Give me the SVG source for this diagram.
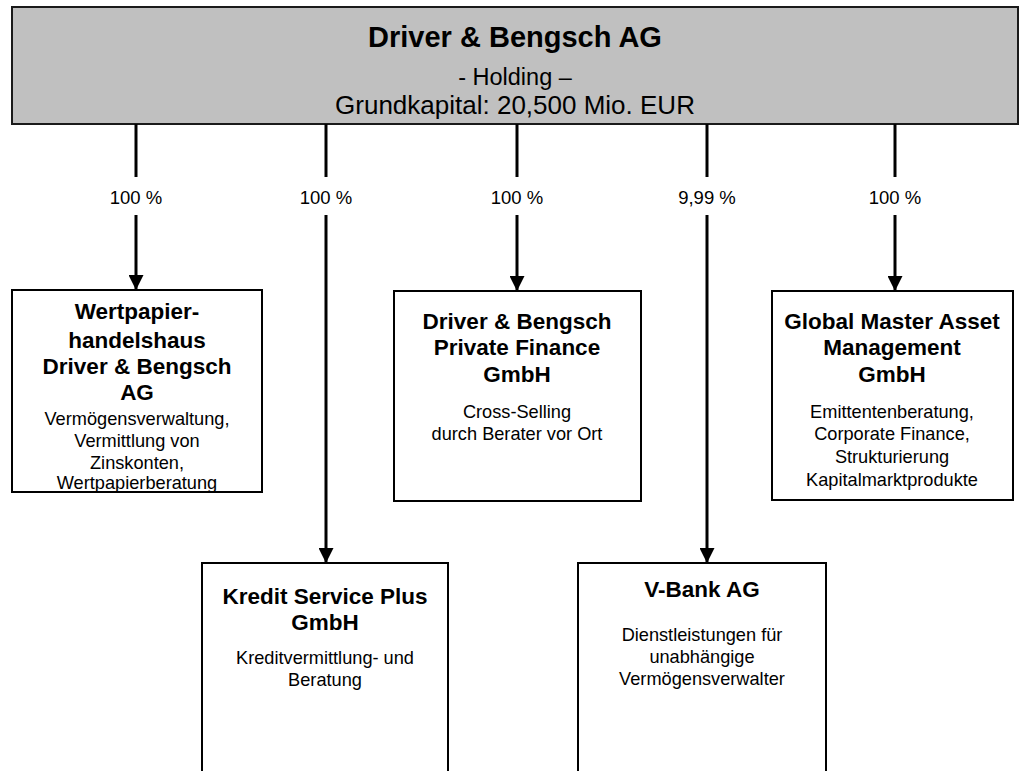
<svg xmlns="http://www.w3.org/2000/svg" width="1024" height="771" viewBox="0 0 1024 771">
<defs>
<style>
.box{fill:#fff;stroke:#000;stroke-width:2}
.top{fill:#c0c0c0;stroke:#1a1a1a;stroke-width:2}
text{font-family:"Liberation Sans",Arial,Helvetica,sans-serif;fill:#000;text-anchor:middle}
.b{font-weight:bold;font-size:22.5px}
.r{font-size:18.2px}
.pct{font-size:18.5px}
.ln{stroke:#000;stroke-width:3;fill:none}
</style>
<marker id="ah" markerWidth="5" markerHeight="5" refX="4.4" refY="2.2" orient="auto" markerUnits="strokeWidth" viewBox="0 0 4.4 4.4">
<path d="M0,0 L4.4,2.2 L0,4.4 Z" fill="#000"/>
</marker>
</defs>
<rect width="1024" height="771" fill="#fff"/>
<g id="holding">
<rect class="top" x="12" y="7" width="1006" height="117"/>
<text x="515" y="47" style="font-weight:bold;font-size:29px">Driver &amp; Bengsch AG</text>
<text x="515" y="85" style="font-size:23.5px">- Holding –</text>
<text x="515" y="114" style="font-size:26px">Grundkapital: 20,500 Mio. EUR</text>
</g>
<g id="connectors">
<line class="ln" x1="136" y1="124" x2="136" y2="177"/>
<line class="ln" x1="136" y1="215" x2="136" y2="290" marker-end="url(#ah)"/>
<line class="ln" x1="326" y1="124" x2="326" y2="177"/>
<line class="ln" x1="326" y1="215" x2="326" y2="563" marker-end="url(#ah)"/>
<line class="ln" x1="517" y1="124" x2="517" y2="177"/>
<line class="ln" x1="517" y1="215" x2="517" y2="291" marker-end="url(#ah)"/>
<line class="ln" x1="707" y1="124" x2="707" y2="177"/>
<line class="ln" x1="707" y1="215" x2="707" y2="563" marker-end="url(#ah)"/>
<line class="ln" x1="895" y1="124" x2="895" y2="177"/>
<line class="ln" x1="895" y1="215" x2="895" y2="291" marker-end="url(#ah)"/>
<text class="pct" x="136" y="204">100 %</text>
<text class="pct" x="326" y="204">100 %</text>
<text class="pct" x="517" y="204">100 %</text>
<text class="pct" x="707" y="204">9,99 %</text>
<text class="pct" x="895" y="204">100 %</text>
</g>
<g id="wertpapierhandelshaus">
<rect class="box" x="12" y="290" width="250" height="202"/>
<text class="b" x="137" y="319">Wertpapier-</text>
<text class="b" x="137" y="348">handelshaus</text>
<text class="b" x="137" y="374">Driver &amp; Bengsch</text>
<text class="b" x="137" y="400">AG</text>
<text class="r" x="137" y="425">Vermögensverwaltung,</text>
<text class="r" x="137" y="447">Vermittlung von</text>
<text class="r" x="137" y="469">Zinskonten,</text>
<text class="r" x="137" y="489">Wertpapierberatung</text>
</g>
<g id="private-finance">
<rect class="box" x="394" y="291" width="247" height="210"/>
<text class="b" x="517" y="329">Driver &amp; Bengsch</text>
<text class="b" x="517" y="355">Private Finance</text>
<text class="b" x="517" y="382">GmbH</text>
<text class="r" x="517" y="418">Cross-Selling</text>
<text class="r" x="517" y="440">durch Berater vor Ort</text>
</g>
<g id="global-master">
<rect class="box" x="772" y="291" width="241" height="209"/>
<text class="b" x="892" y="329">Global Master Asset</text>
<text class="b" x="892" y="355">Management</text>
<text class="b" x="892" y="382">GmbH</text>
<text class="r" x="892" y="418">Emittentenberatung,</text>
<text class="r" x="892" y="440">Corporate Finance,</text>
<text class="r" x="892" y="463">Strukturierung</text>
<text class="r" x="892" y="486">Kapitalmarktprodukte</text>
</g>
<g id="kredit-service">
<rect class="box" x="202" y="563" width="246" height="220"/>
<text class="b" x="325" y="604">Kredit Service Plus</text>
<text class="b" x="325" y="630">GmbH</text>
<text class="r" x="325" y="664">Kreditvermittlung- und</text>
<text class="r" x="325" y="686">Beratung</text>
</g>
<g id="v-bank">
<rect class="box" x="578" y="563" width="248" height="220"/>
<text class="b" x="702" y="597">V-Bank AG</text>
<text class="r" x="702" y="641">Dienstleistungen für</text>
<text class="r" x="702" y="663">unabhängige</text>
<text class="r" x="702" y="685">Vermögensverwalter</text>
</g>
</svg>
